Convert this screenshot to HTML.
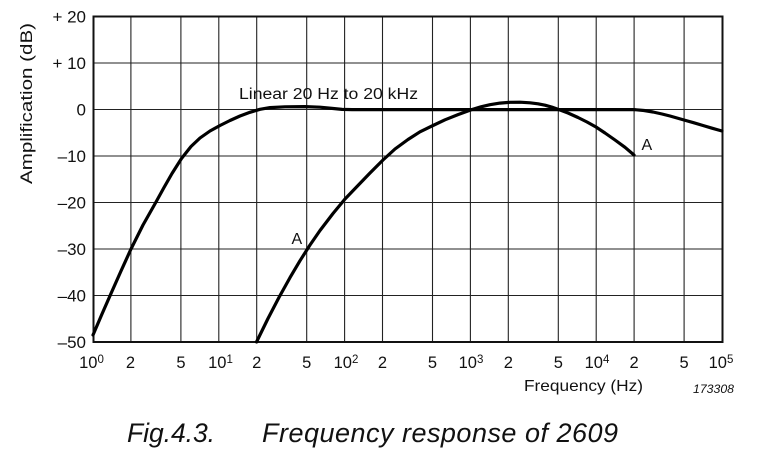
<!DOCTYPE html>
<html>
<head>
<meta charset="utf-8">
<style>
html,body{margin:0;padding:0;background:#fff;}
svg{display:block;}
text{font-family:"Liberation Sans",Arial,sans-serif;fill:#111;}
</style>
</head>
<body>
<svg width="758" height="457" viewBox="0 0 758 457" xmlns="http://www.w3.org/2000/svg">
<rect width="758" height="457" fill="#fff"/>
<!-- vertical grid -->
<g stroke="#222" stroke-width="1.1">
<line x1="130.9" y1="16.5" x2="130.9" y2="342"/>
<line x1="180.9" y1="16.5" x2="180.9" y2="342"/>
<line x1="218.8" y1="16.5" x2="218.8" y2="342"/>
<line x1="256.7" y1="16.5" x2="256.7" y2="342"/>
<line x1="306.7" y1="16.5" x2="306.7" y2="342"/>
<line x1="344.6" y1="16.5" x2="344.6" y2="342"/>
<line x1="382.5" y1="16.5" x2="382.5" y2="342"/>
<line x1="432.5" y1="16.5" x2="432.5" y2="342"/>
<line x1="470.4" y1="16.5" x2="470.4" y2="342"/>
<line x1="508.3" y1="16.5" x2="508.3" y2="342"/>
<line x1="558.3" y1="16.5" x2="558.3" y2="342"/>
<line x1="596.2" y1="16.5" x2="596.2" y2="342"/>
<line x1="634.1" y1="16.5" x2="634.1" y2="342"/>
<line x1="684.1" y1="16.5" x2="684.1" y2="342"/>
</g>
<!-- horizontal grid -->
<g stroke="#222" stroke-width="1.1">
<line x1="93" y1="63" x2="722.5" y2="63"/>
<line x1="93" y1="109.5" x2="722.5" y2="109.5"/>
<line x1="93" y1="156" x2="722.5" y2="156"/>
<line x1="93" y1="202.5" x2="722.5" y2="202.5"/>
<line x1="93" y1="249" x2="722.5" y2="249"/>
<line x1="93" y1="295.5" x2="722.5" y2="295.5"/>
</g>
<!-- frame -->
<rect x="93.5" y="16.5" width="629" height="325.5" fill="none" stroke="#111" stroke-width="2"/>

<!-- curves -->
<g fill="none" stroke="#000" stroke-width="3.2" stroke-linejoin="round" stroke-linecap="round">
<polyline points="93,335 102,314 111,293.5 121,271 131,249 143,225 156,202 164,187.5 172,173.5 181.5,158.5 191,146.5 200,138 210,131 220,125.5 230,120.5 240,116 250,112.3 260,109.3 270,107.6 285,106.8 305,106.6 320,107.2 332,108.4 342,109.4 352,109.6 634,109.6 644,110.5 653,112 662,114 670,116 684,120 694,122.8 703,125.5 712,128.2 722,131"/>
<polyline points="256.5,342 268,318.5 279,297.4 290,277.6 300,260.7 310,245 320,230.5 333,213.5 345,199 357,186.5 370,173 383,160 395,149 408,139.5 420,131.8 433,125.5 445,119.8 458,114.6 472,109.5 481,106.8 490,104.7 500,103.1 510,102.3 520,102.2 530,102.8 538,103.8 545,105.2 552,107.2 559,109.6 568,113 578,117.5 587,122 596,127 605,133 615,140 625,147.3 634,155"/>
</g>

<!-- y labels -->
<g font-size="17" text-anchor="end">
<text x="86" y="22.5">+ 20</text>
<text x="86" y="69">+ 10</text>
<text x="86" y="115.5">0</text>
<text x="86" y="162">–10</text>
<text x="86" y="208.5">–20</text>
<text x="86" y="255">–30</text>
<text x="86" y="301.5">–40</text>
<text x="86" y="348">–50</text>
</g>
<text transform="translate(32,184) rotate(-90)" font-size="17" textLength="161" lengthAdjust="spacingAndGlyphs">Amplification (dB)</text>

<!-- x labels -->
<g font-size="16.5" text-anchor="middle">
<text x="91.5" y="368">10<tspan font-size="11.5" dy="-5">0</tspan></text>
<text x="130.5" y="368">2</text>
<text x="181" y="368">5</text>
<text x="220.5" y="368">10<tspan font-size="11.5" dy="-5">1</tspan></text>
<text x="256.7" y="368">2</text>
<text x="306.7" y="368">5</text>
<text x="346" y="368">10<tspan font-size="11.5" dy="-5">2</tspan></text>
<text x="382.5" y="368">2</text>
<text x="432.5" y="368">5</text>
<text x="471" y="368">10<tspan font-size="11.5" dy="-5">3</tspan></text>
<text x="508.3" y="368">2</text>
<text x="558.3" y="368">5</text>
<text x="597" y="368">10<tspan font-size="11.5" dy="-5">4</tspan></text>
<text x="634.1" y="368">2</text>
<text x="684.1" y="368">5</text>
<text x="721" y="368">10<tspan font-size="11.5" dy="-5">5</tspan></text>
</g>

<text x="524" y="391" font-size="16" textLength="119" lengthAdjust="spacingAndGlyphs">Frequency (Hz)</text>
<text x="693" y="393" font-size="11.5" font-style="italic" textLength="41" lengthAdjust="spacingAndGlyphs">173308</text>

<text x="239" y="99" font-size="15.5" textLength="179" lengthAdjust="spacingAndGlyphs">Linear 20 Hz to 20 kHz</text>
<text x="641.5" y="150" font-size="16">A</text>
<text x="291.5" y="244" font-size="16">A</text>

<text x="127" y="442" font-size="26.5" font-style="italic" textLength="88" lengthAdjust="spacing">Fig.4.3.</text>
<text x="262" y="442" font-size="27" font-style="italic" textLength="356" lengthAdjust="spacing">Frequency response of 2609</text>
</svg>
</body>
</html>
